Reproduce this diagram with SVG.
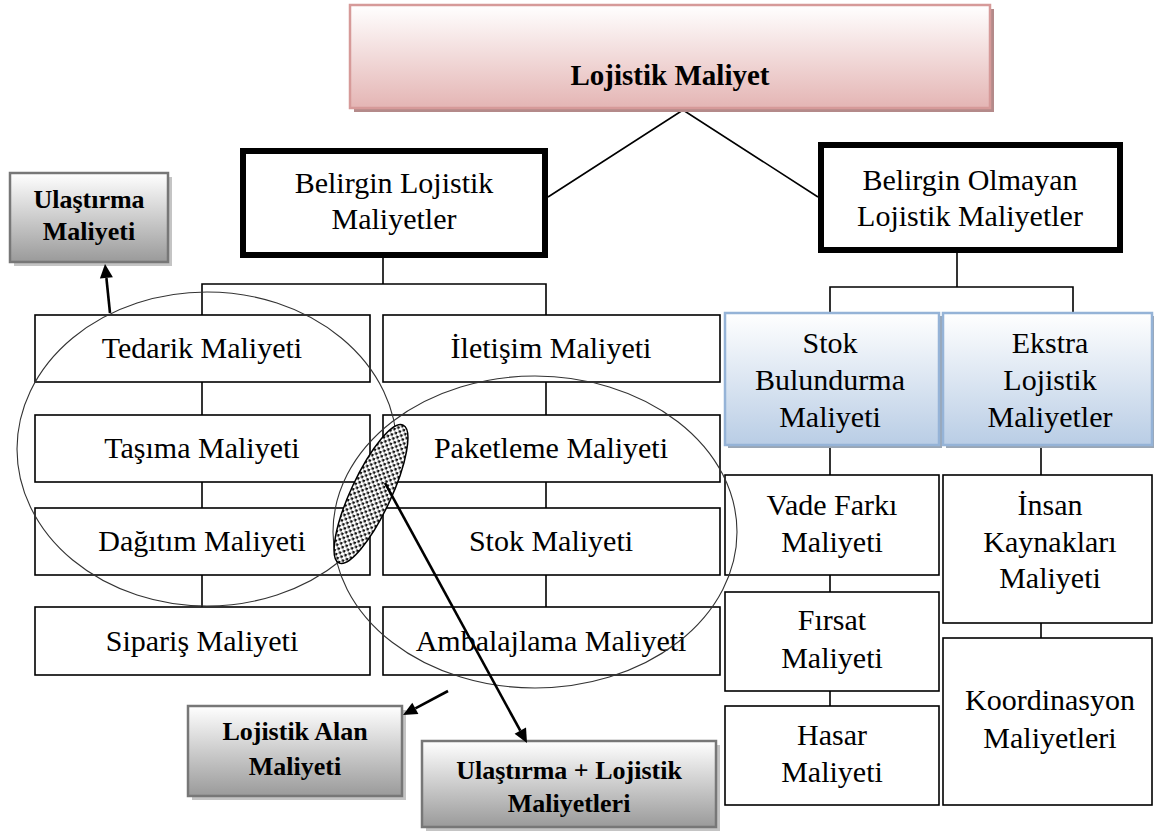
<svg xmlns="http://www.w3.org/2000/svg" width="1154" height="834" viewBox="0 0 1154 834">
  <defs>
    <linearGradient id="gPink" x1="0" y1="0" x2="0" y2="1">
      <stop offset="0" stop-color="#ffffff"/>
      <stop offset="1" stop-color="#e4b5b4"/>
    </linearGradient>
    <linearGradient id="gBlue" x1="0" y1="0" x2="0" y2="1">
      <stop offset="0" stop-color="#ffffff"/>
      <stop offset="1" stop-color="#b9cde5"/>
    </linearGradient>
    <linearGradient id="gGray" x1="0" y1="0" x2="0" y2="1">
      <stop offset="0" stop-color="#ffffff"/>
      <stop offset="1" stop-color="#9a9a9a"/>
    </linearGradient>
    <pattern id="dots" width="6" height="6" patternUnits="userSpaceOnUse">
      <rect width="6" height="6" fill="#ffffff"/>
      <rect x="0.5" y="0.5" width="2.5" height="2.5" fill="#111"/>
      <rect x="3.5" y="3.5" width="2.5" height="2.5" fill="#111"/>
    </pattern>
  </defs>
  <style>
    text { font-family: "Liberation Serif", "DejaVu Serif", serif; fill: #000; text-anchor: middle; }
    .t { font-size: 30px; }
    .tb { font-size: 26px; font-weight: bold; }
    .title { font-size: 29px; font-weight: bold; }
    .box { fill: #ffffff; stroke: #000; stroke-width: 1.6; }
    .thick { fill: #ffffff; stroke: #000; stroke-width: 6; }
    .line { fill: none; stroke: #000; stroke-width: 1.6; }
    .ell { fill: none; stroke: #333; stroke-width: 1.1; }
    .arr { fill: none; stroke: #000; stroke-width: 2.6; }
    .head { fill: #000; stroke: none; }
    .pinkBox { fill: url(#gPink); stroke: #d69a99; stroke-width: 2.5; }
    .pinkShadow { fill: #b48a8a; }
    .blueBox { fill: url(#gBlue); stroke: #95b3d7; stroke-width: 2.5; }
    .blueShadow { fill: #9aa6b4; }
    .grayBox { fill: url(#gGray); stroke: #777; stroke-width: 2.5; }
    .grayShadow { fill: #c4c4c4; }
  </style>

  <!-- tree connectors -->
  <g id="connectors">
    <polyline class="line" points="548,197 683,110 818,197"/>
    <polyline class="line" points="383,258 383,284"/>
    <polyline class="line" points="202,315 202,284 546,284 546,315"/>
    <line class="line" x1="202" y1="382" x2="202" y2="415"/>
    <line class="line" x1="202" y1="482" x2="202" y2="508"/>
    <line class="line" x1="202" y1="575" x2="202" y2="607"/>
    <line class="line" x1="546" y1="382" x2="546" y2="415"/>
    <line class="line" x1="546" y1="482" x2="546" y2="508"/>
    <line class="line" x1="546" y1="575" x2="546" y2="607"/>
    <polyline class="line" points="957,253 957,287"/>
    <polyline class="line" points="830,313 830,287 1073,287 1073,313"/>
    <line class="line" x1="830" y1="445" x2="830" y2="475"/>
    <line class="line" x1="830" y1="575" x2="830" y2="592"/>
    <line class="line" x1="830" y1="691" x2="830" y2="706"/>
    <line class="line" x1="1041" y1="445" x2="1041" y2="475"/>
    <line class="line" x1="1041" y1="623" x2="1041" y2="638"/>
  </g>

  <!-- root -->
  <g id="lojistik-maliyet">
    <rect class="pinkShadow" x="354" y="9" width="640" height="103"/>
    <rect class="pinkBox" x="350" y="5" width="640" height="103"/>
    <text class="title" x="670" y="85">Lojistik Maliyet</text>
  </g>

  <g id="belirgin">
    <rect class="thick" x="243" y="151" width="302" height="104"/>
    <text class="t" x="394" y="193">Belirgin Lojistik</text>
    <text class="t" x="394" y="229">Maliyetler</text>
  </g>

  <g id="belirgin-olmayan">
    <rect class="thick" x="821" y="145" width="299" height="105"/>
    <text class="t" x="970" y="190">Belirgin Olmayan</text>
    <text class="t" x="970" y="226">Lojistik Maliyetler</text>
  </g>

  <!-- left grid -->
  <g id="tedarik"><rect class="box" x="35" y="315" width="335" height="67"/><text class="t" x="202" y="358">Tedarik Maliyeti</text></g>
  <g id="tasima"><rect class="box" x="35" y="415" width="335" height="67"/><text class="t" x="202" y="458">Taşıma Maliyeti</text></g>
  <g id="dagitim"><rect class="box" x="35" y="508" width="335" height="67"/><text class="t" x="202" y="551">Dağıtım Maliyeti</text></g>
  <g id="siparis"><rect class="box" x="35" y="607" width="335" height="68"/><text class="t" x="202" y="651">Sipariş Maliyeti</text></g>

  <g id="iletisim"><rect class="box" x="383" y="315" width="337" height="67"/><text class="t" x="551" y="358">İletişim Maliyeti</text></g>
  <g id="paketleme"><rect class="box" x="383" y="415" width="337" height="67"/><text class="t" x="551" y="458">Paketleme Maliyeti</text></g>
  <g id="stok"><rect class="box" x="383" y="508" width="337" height="67"/><text class="t" x="551" y="551">Stok Maliyeti</text></g>
  <g id="ambalajlama"><rect class="box" x="383" y="607" width="337" height="68"/><text class="t" x="551" y="651">Ambalajlama Maliyeti</text></g>

  <!-- right side -->
  <g id="stok-bulundurma">
    <rect class="blueShadow" x="728" y="316" width="214" height="132"/>
    <rect class="blueBox" x="725" y="313" width="214" height="132"/>
    <text class="t" x="830" y="353">Stok</text>
    <text class="t" x="830" y="390">Bulundurma</text>
    <text class="t" x="830" y="427">Maliyeti</text>
  </g>
  <g id="ekstra">
    <rect class="blueShadow" x="946" y="316" width="210" height="132"/>
    <rect class="blueBox" x="943" y="313" width="209" height="132"/>
    <text class="t" x="1050" y="353">Ekstra</text>
    <text class="t" x="1050" y="390">Lojistik</text>
    <text class="t" x="1050" y="427">Maliyetler</text>
  </g>

  <g id="vade"><rect class="box" x="725" y="475" width="214" height="100"/><text class="t" x="832" y="515">Vade Farkı</text><text class="t" x="832" y="552">Maliyeti</text></g>
  <g id="firsat"><rect class="box" x="725" y="592" width="214" height="99"/><text class="t" x="832" y="630">Fırsat</text><text class="t" x="832" y="668">Maliyeti</text></g>
  <g id="hasar"><rect class="box" x="725" y="706" width="214" height="99"/><text class="t" x="832" y="745">Hasar</text><text class="t" x="832" y="782">Maliyeti</text></g>
  <g id="insan"><rect class="box" x="943" y="475" width="209" height="148"/><text class="t" x="1050" y="515">İnsan</text><text class="t" x="1050" y="552">Kaynakları</text><text class="t" x="1050" y="588">Maliyeti</text></g>
  <g id="koordinasyon"><rect class="box" x="943" y="638" width="209" height="167"/><text class="t" x="1050" y="710">Koordinasyon</text><text class="t" x="1050" y="748">Maliyetleri</text></g>

  <!-- grouping ellipses -->
  <g id="groups">
    <ellipse class="ell" cx="207" cy="449" rx="190" ry="157"/>
    <ellipse class="ell" cx="535" cy="532" rx="202" ry="156"/>
    <ellipse cx="371" cy="494" rx="76" ry="20" transform="rotate(-65 371 494)" fill="url(#dots)" stroke="#000" stroke-width="1.5"/>
  </g>

  <!-- highlighted cost groups -->
  <g id="ulastirma">
    <rect class="grayShadow" x="14" y="177" width="158" height="89"/>
    <rect class="grayBox" x="10" y="173" width="158" height="89"/>
    <text class="tb" x="89" y="208">Ulaştırma</text>
    <text class="tb" x="89" y="240">Maliyeti</text>
  </g>
  <g id="lojistik-alan">
    <rect class="grayShadow" x="192" y="710" width="214" height="90"/>
    <rect class="grayBox" x="188" y="706" width="214" height="90"/>
    <text class="tb" x="295" y="740">Lojistik Alan</text>
    <text class="tb" x="295" y="775">Maliyeti</text>
  </g>
  <g id="ulastirma-lojistik">
    <rect class="grayShadow" x="426" y="745" width="294" height="86"/>
    <rect class="grayBox" x="422" y="741" width="294" height="86"/>
    <text class="tb" x="569" y="779">Ulaştırma + Lojistik</text>
    <text class="tb" x="569" y="812">Maliyetleri</text>
  </g>

  <!-- pointer arrows: shaft plus filled head -->
  <g id="pointers">
    <line class="arr" x1="110" y1="313" x2="106.4" y2="278"/>
    <polygon class="head" points="105,264 112.9,277.2 99.9,278.6"/>
    <line class="arr" x1="448" y1="691" x2="415.4" y2="708.4"/>
    <polygon class="head" points="403,715 412.3,702.7 418.4,714.1"/>
    <line class="arr" x1="385" y1="483" x2="520.3" y2="730.7"/>
    <polygon class="head" points="527,743 526,727.6 514.6,733.8"/>
  </g>
</svg>
